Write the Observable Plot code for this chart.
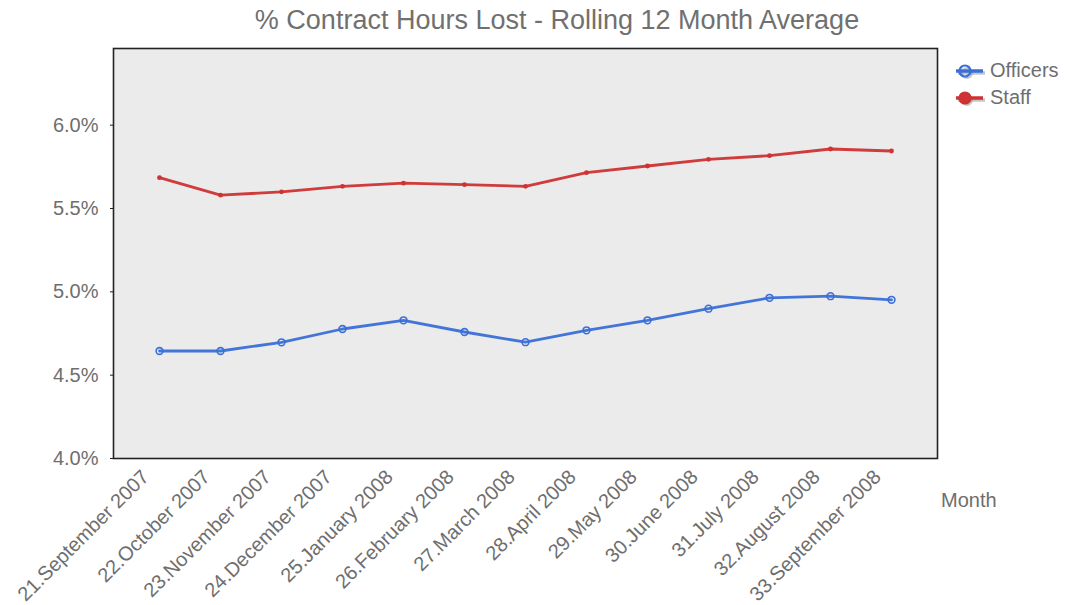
<!DOCTYPE html>
<html>
<head>
<meta charset="utf-8">
<script src="https://cdn.jsdelivr.net/npm/d3@7"></script>
<script src="https://cdn.jsdelivr.net/npm/@observablehq/plot@0.6"></script>
<style>
  html, body { margin: 0; padding: 0; background: #fff; }
  #wrap { position: relative; width: 1082px; height: 605px; overflow: hidden; font-family: "Liberation Sans", Arial, sans-serif; }
  #title { height: 40px; line-height: 40px; text-align: center; font-size: 27px; color: #707070; padding-left: 32px; box-sizing: border-box; width: 1082px; white-space: nowrap; }
  #legend { position: absolute; left: 955px; top: 57px; font-size: 20px; color: #6e6e6e; }
  #legend .row { display: flex; align-items: center; height: 27px; }
  #legend svg { margin-right: 3px; }
  #xtitle { position: absolute; left: 941px; top: 489px; font-size: 20px; color: #6e6e6e; }
</style>
</head>
<body>
<div id="wrap">
  <div id="title">% Contract Hours Lost - Rolling 12 Month Average</div>
  <div id="chart"></div>
  <div id="legend"></div>
  <div id="xtitle">Month</div>
</div>
<script>
const months = ["21.September 2007", "22.October 2007", "23.November 2007", "24.December 2007",
  "25.January 2008", "26.February 2008", "27.March 2008", "28.April 2008", "29.May 2008",
  "30.June 2008", "31.July 2008", "32.August 2008", "33.September 2008"];
const officers = [4.645, 4.645, 4.697, 4.777, 4.829, 4.759, 4.698, 4.769, 4.829, 4.899, 4.964, 4.974, 4.952];
const staff = [5.685, 5.580, 5.600, 5.633, 5.652, 5.643, 5.633, 5.715, 5.755, 5.795, 5.817, 5.857, 5.845];
const seriesNames = ["Officers", "Staff"];
const seriesColors = ["#3a6fd8", "#cf3232"];
const yTicks = [4.0, 4.5, 5.0, 5.5, 6.0];

const rows = [];
months.forEach((m, i) => {
  rows.push({month: m, series: "Officers", value: officers[i]});
  rows.push({month: m, series: "Staff", value: staff[i]});
});
const off = rows.filter(d => d.series === "Officers");
const stf = rows.filter(d => d.series === "Staff");

const textColor = "#6e6e6e";
const chart = Plot.plot({
  width: 1082,
  height: 565,
  marginLeft: 113,
  marginRight: 145,
  marginTop: 8,
  marginBottom: 147,
  style: {fontFamily: "Liberation Sans, Arial, sans-serif", fontSize: "20px", background: "transparent", overflow: "visible"},
  x: {type: "point", domain: months, padding: 0.72},
  y: {domain: [4.0, 6.46]},
  color: {domain: seriesNames, range: seriesColors},
  marks: [
    Plot.frame({fill: "#ebebeb", stroke: null}),
    Plot.axisY({ticks: yTicks, tickFormat: d => d.toFixed(1) + "%", tickSize: 3, tickPadding: 12, fontSize: 20, color: textColor, stroke: "#222", label: null}),
    Plot.axisX({tickRotate: -45, tickSize: 0, tickPadding: 15, dx: -14, fontSize: 20, color: textColor, label: null}),
    Plot.line(rows, {x: "month", y: "value", stroke: "series", z: "series", strokeWidth: 2.8, strokeOpacity: 0.95}),
    Plot.dot(off, {x: "month", y: "value", r: 3.4, stroke: "series", fill: "none", strokeWidth: 1.6}),
    Plot.dot(stf, {x: "month", y: "value", r: 2.4, fill: "series", stroke: null}),
    Plot.frame({stroke: "#222", strokeWidth: 1.6})
  ]
});
document.getElementById("chart").appendChild(chart);

const legend = document.getElementById("legend");
seriesNames.forEach((name, i) => {
  const row = document.createElement("div");
  row.className = "row";
  const hollow = i === 0;
  row.innerHTML = `<svg width="32" height="16" viewBox="0 0 32 16">
    <line x1="3" y1="10" x2="30" y2="10" stroke="#999" stroke-width="3.5" opacity="0.55"/>
    <circle cx="12" cy="10" r="5" fill="${hollow ? "none" : "#999"}" stroke="#999" stroke-width="2" opacity="0.55"/>
    <line x1="1" y1="8" x2="28" y2="8" stroke="${seriesColors[i]}" stroke-width="3.5"/>
    <circle cx="10" cy="8" r="5.5" fill="${hollow ? "none" : seriesColors[i]}" stroke="${seriesColors[i]}" stroke-width="2.2"/>
  </svg><span>${name}</span>`;
  legend.appendChild(row);
});
</script>
</body>
</html>
